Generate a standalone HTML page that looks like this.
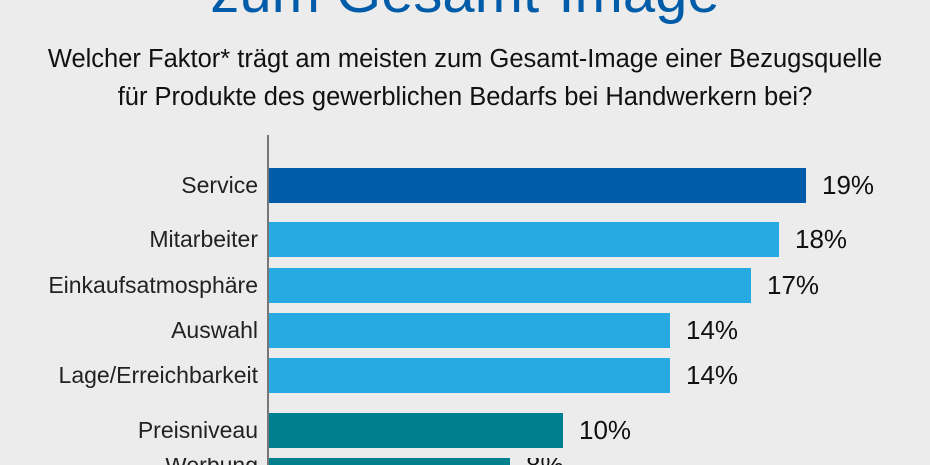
<!DOCTYPE html>
<html><head><style>
html,body{margin:0;width:930px;height:465px;overflow:hidden}
body{background:#ececec;font-family:"Liberation Sans",sans-serif}
#c{position:relative;width:930px;height:465px;overflow:hidden}
.t{position:absolute;left:0;width:930px;text-align:center;white-space:nowrap}
.bar{position:absolute;left:269px;height:35px}
.l{position:absolute;right:672px;font-size:23px;color:#222;line-height:35px;white-space:nowrap}
.v{position:absolute;font-size:26px;color:#111;line-height:35px}
</style></head><body><div id="c">
<div class="t" style="top:-42px;font-size:58px;line-height:70px;color:#005ca8;">zum Gesamt-Image</div>
<div class="t" style="top:45px;font-size:25.5px;color:#111;">Welcher Faktor* trägt am meisten zum Gesamt-Image einer Bezugsquelle</div>
<div class="t" style="top:83px;font-size:25.5px;color:#111;">für Produkte des gewerblichen Bedarfs bei Handwerkern bei?</div>
<div style="position:absolute;left:267px;top:135px;width:2px;height:330px;background:#777"></div>

<div class="bar" style="top:168px;width:537px;background:#005ca8"></div>
<div class="l" style="top:168px">Service</div><div class="v" style="top:168px;left:822px">19%</div>
<div class="bar" style="top:222px;width:510px;background:#27aae1"></div>
<div class="l" style="top:222px">Mitarbeiter</div><div class="v" style="top:222px;left:795px">18%</div>
<div class="bar" style="top:268px;width:482px;background:#27aae1"></div>
<div class="l" style="top:268px">Einkaufsatmosphäre</div><div class="v" style="top:268px;left:767px">17%</div>
<div class="bar" style="top:313px;width:401px;background:#27aae1"></div>
<div class="l" style="top:313px">Auswahl</div><div class="v" style="top:313px;left:686px">14%</div>
<div class="bar" style="top:358px;width:401px;background:#27aae1"></div>
<div class="l" style="top:358px">Lage/Erreichbarkeit</div><div class="v" style="top:358px;left:686px">14%</div>
<div class="bar" style="top:413px;width:294px;background:#00808f"></div>
<div class="l" style="top:413px">Preisniveau</div><div class="v" style="top:413px;left:579px">10%</div>
<div class="bar" style="top:458px;width:241px;height:7px;background:#00808f"></div>
<div class="l" style="top:458px;line-height:14px;height:7px;overflow:hidden">Werbung</div><div class="v" style="top:458px;left:526px;line-height:14px;height:7px;overflow:hidden">8%</div>
</div></body></html>
